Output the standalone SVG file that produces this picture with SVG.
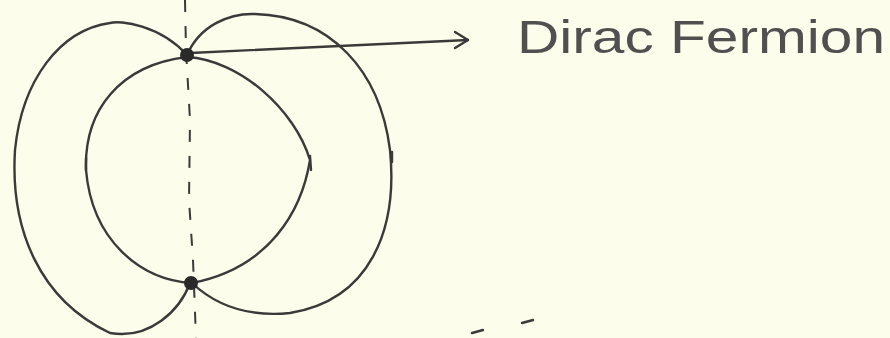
<svg xmlns="http://www.w3.org/2000/svg" width="890" height="338" viewBox="0 0 890 338">
<style>
.ln{fill:none;stroke:#3a3a3a;stroke-width:2.4;stroke-linecap:round;stroke-linejoin:round}
.dash{fill:none;stroke:#3a3a3a;stroke-width:2;stroke-dasharray:12 14}
.node{fill:#2a2a2a}
.lbl{font-family:"Liberation Sans","DejaVu Sans",sans-serif;font-size:46px;fill:#505050;font-weight:normal}
</style>
<rect width="890" height="338" fill="#fdfdeb"/>
<g id="axis">
<path class="dash" d="M185,0 L186,50 L190,120 L189,200 L193,260 L196,338"/>
</g>
<g id="connectors">
<path class="ln" d="M187,55 C160,25 120,20 110,23 C60,30 22,80 15,150 C10,230 40,300 110,333 C150,340 180,310 190,283"/>
<path class="ln" d="M187,55 C200,25 230,13 255,14 C330,16 380,70 390,150 C398,230 370,300 290,313 C240,318 210,300 192,283"/>
<path class="ln" d="M187,57 C240,60 295,110 310,160 C302,210 270,268 192,283 C140,280 92,240 86,170 C84,110 120,65 187,57 Z"/>
<path class="ln" stroke-width="1.8" d="M190,53 L468,40"/>
<path class="ln" stroke-width="1.8" d="M455,32 L468,40 L455,48"/>
<path class="ln" stroke-width="3" d="M86,158 L86,170 M310,156 L311,170 M392,152 L392,162"/>
<path class="ln" stroke-width="1.8" d="M472,333 L483,330 M522,323 L533,320"/>
</g>
<g id="fermion-top"><circle class="node" cx="187" cy="55" r="7"/></g>
<g id="fermion-bottom"><circle class="node" cx="191" cy="283" r="7"/></g>
<g id="label"><text class="lbl" x="517" y="53" textLength="368" lengthAdjust="spacingAndGlyphs">Dirac Fermion</text></g>
</svg>
